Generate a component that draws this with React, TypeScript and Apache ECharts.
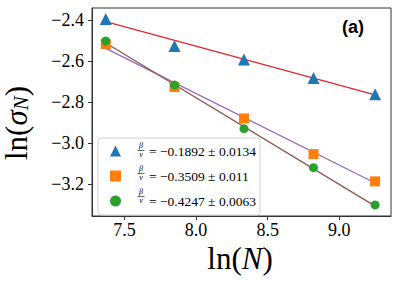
import React, { useEffect, useRef } from "react";
import * as echarts from "echarts";

const lnN = [7.37, 7.85, 8.335, 8.82, 9.25];
const triangleVals = [-2.395, -2.527, -2.592, -2.682, -2.762];
const squareVals = [-2.517, -2.727, -2.88, -3.054, -3.187];
const circleVals = [-2.502, -2.717, -2.93, -3.12, -3.302];

const fitX = [7.37, 9.25];
const redFit = [-2.408, -2.765];
const purpleFit = [-2.538, -3.195];
const brownFit = [-2.512, -3.308];

const xTicks = [7.5, 8.0, 8.5, 9.0];
const yTicks = [-3.2, -3.0, -2.8, -2.6, -2.4];

const seriesNames = ["tri", "sq", "circ"];
const legendTexts = ["= −0.1892 ± 0.0134", "= −0.3509 ± 0.011", "= −0.4247 ± 0.0063"];

const SERIF = "'Liberation Serif', 'Times New Roman', serif";

const fmt = (v: number) => v.toFixed(1).replace("-", "−");

export default function App() {
  const ref = useRef<HTMLDivElement>(null);
  useEffect(() => {
    if (!ref.current) return;
    const chart = echarts.init(ref.current, undefined, { renderer: "svg" });
    const pairs = (xs: number[], ys: number[]) => xs.map((x, i) => [x, ys[i]]);
    const legendRows = [150, 173, 196];
    const fracGraphics: any[] = [];
    legendRows.forEach((y) => {
      fracGraphics.push(
        { type: "text", z: 100, x: 141, y: y - 4.5, style: { text: "β", fontSize: 8, fontStyle: "italic", fontFamily: SERIF, fill: "#000", align: "center", verticalAlign: "middle" } },
        { type: "line", z: 100, shape: { x1: 137.5, y1: y + 0.5, x2: 144.5, y2: y + 0.5 }, style: { stroke: "#000", lineWidth: 0.6 } },
        { type: "text", z: 100, x: 141, y: y + 4.5, style: { text: "ν", fontSize: 8, fontStyle: "italic", fontFamily: SERIF, fill: "#000", align: "center", verticalAlign: "middle" } }
      );
    });
    chart.setOption({
      animation: false,
      textStyle: { fontFamily: SERIF },
      grid: { left: 92, top: 8, right: 8, bottom: 69, show: true, borderColor: "#333", borderWidth: 1, backgroundColor: "transparent" },
      xAxis: {
        type: "value",
        min: 7.274,
        max: 9.361,
        axisLine: { show: true, onZero: false, lineStyle: { color: "#333", width: 1 } },
        axisTick: { show: true, length: 4, customValues: xTicks, lineStyle: { color: "#333" } },
        axisLabel: { show: true, customValues: xTicks, formatter: fmt, fontFamily: SERIF, fontSize: 18, color: "#000", margin: 5 },
        splitLine: { show: false },
      },
      yAxis: {
        type: "value",
        min: -3.356,
        max: -2.341,
        axisLine: { show: true, onZero: false, lineStyle: { color: "#333", width: 1 } },
        axisTick: { show: true, length: 4, customValues: yTicks, lineStyle: { color: "#333" } },
        axisLabel: { show: true, customValues: yTicks, formatter: fmt, fontFamily: SERIF, fontSize: 18, color: "#000", margin: 8 },
        splitLine: { show: false },
      },
      legend: {
        left: 98,
        top: 138,
        orient: "vertical",
        padding: [6, 4, 7, 12],
        itemGap: 11,
        itemWidth: 11,
        itemHeight: 11,
        backgroundColor: "rgba(255,255,255,0.8)",
        borderColor: "#d0d0d0",
        borderWidth: 1,
        borderRadius: 3,
        data: [
          { name: seriesNames[0], icon: "triangle" },
          { name: seriesNames[1], icon: "rect" },
          { name: seriesNames[2], icon: "circle" },
        ],
        formatter: (name: string) => `{sp|}{t|${legendTexts[seriesNames.indexOf(name)]}}`,
        textStyle: {
          fontFamily: SERIF,
          fontSize: 13.5,
          color: "#000",
          rich: {
            sp: { width: 23 },
            t: { fontFamily: SERIF, fontSize: 13.5, color: "#000", lineHeight: 12 },
          },
        },
      },
      series: [
        { type: "line", data: pairs(fitX, redFit), symbol: "none", lineStyle: { color: "#e0272b", width: 1.3 }, z: 1, silent: true },
        { type: "line", data: pairs(fitX, purpleFit), symbol: "none", lineStyle: { color: "#9467bd", width: 1.3 }, z: 1, silent: true },
        { type: "line", data: pairs(fitX, brownFit), symbol: "none", lineStyle: { color: "#8c564b", width: 1.3 }, z: 1, silent: true },
        { name: seriesNames[0], type: "scatter", symbol: "triangle", symbolSize: 12, data: pairs(lnN, triangleVals), itemStyle: { color: "#1f77b4", opacity: 1 }, z: 3 },
        { name: seriesNames[1], type: "scatter", symbol: "rect", symbolSize: 10, data: pairs(lnN, squareVals), itemStyle: { color: "#ff7f0e", opacity: 1 }, z: 3 },
        { name: seriesNames[2], type: "scatter", symbol: "circle", symbolSize: 9, data: pairs(lnN, circleVals), itemStyle: { color: "#2ca02c", opacity: 1 }, z: 3 },
      ],
      graphic: [
        ...fracGraphics,
        {
          type: "text",
          x: 353,
          y: 27,
          style: { text: "(a)", fontFamily: "'Liberation Sans', Arial, sans-serif", fontWeight: "bold", fontSize: 18, fill: "#000", align: "center", verticalAlign: "middle" },
        },
        {
          type: "text",
          x: 240,
          y: 258,
          style: {
            text: "{a|ln(}{i|N}{a|)}",
            align: "center",
            verticalAlign: "middle",
            rich: {
              a: { fontFamily: SERIF, fontSize: 31, fill: "#000" },
              i: { fontFamily: SERIF, fontSize: 31, fontStyle: "italic", fill: "#000" },
            },
          },
        },
        {
          type: "text",
          x: 16,
          y: 123,
          rotation: Math.PI / 2,
          style: {
            text: "{a|ln(}{i|σ}{s|N}{a|)}",
            align: "center",
            verticalAlign: "middle",
            rich: {
              a: { fontFamily: SERIF, fontSize: 31, fill: "#000", lineHeight: 30, verticalAlign: "middle" },
              i: { fontFamily: SERIF, fontSize: 31, fontStyle: "italic", fill: "#000", lineHeight: 30, verticalAlign: "middle" },
              s: { fontFamily: SERIF, fontSize: 21, fontStyle: "italic", fill: "#000", lineHeight: 20, verticalAlign: "bottom" },
            },
          },
        },
      ],
    });
    return () => chart.dispose();
  }, []);
  return <div ref={ref} style={{ width: 399, height: 285, position: "absolute", left: 0, top: 0 }} />;
}
